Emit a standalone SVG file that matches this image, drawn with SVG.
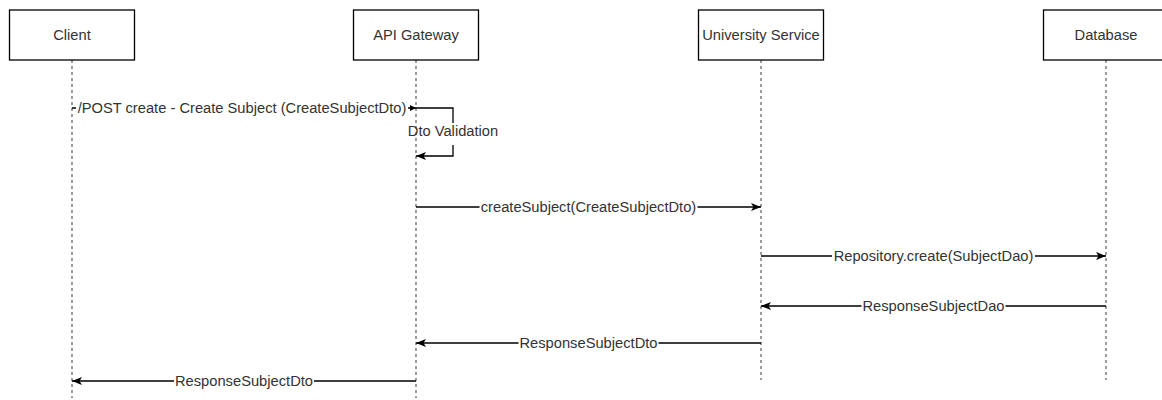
<svg xmlns="http://www.w3.org/2000/svg" width="1162" height="400" viewBox="0 0 1162 400">
  <defs>
    <style>
      .box { fill: #ffffff; stroke: #000000; stroke-width: 1.3; }
      .life { stroke: #6a6a6a; stroke-width: 1.3; stroke-dasharray: 3 3; fill: none; }
      .title { font-family: "Liberation Sans", Arial, Helvetica, sans-serif; font-size: 14.7px; fill: #333333; text-anchor: middle; }
      .msg { stroke: #000000; stroke-width: 1.3; fill: none; }
      .call { marker-end: url(#classic); }
      .label { font-family: "Liberation Sans", Arial, Helvetica, sans-serif; font-size: 14.7px; fill: #333333; text-anchor: middle; }
    </style>
    <!-- draw.io style "classic" arrowhead -->
    <marker id="classic" viewBox="0 0 10 8" refX="10" refY="4" markerWidth="10" markerHeight="8" markerUnits="userSpaceOnUse" orient="auto">
      <path d="M0,0 L10,4 L0,8 L2.5,4 Z" fill="#000000"/>
    </marker>
    <!-- small filled block arrowhead -->
    <marker id="block" viewBox="0 0 6 6" refX="6" refY="3" markerWidth="6" markerHeight="6" markerUnits="userSpaceOnUse" orient="auto">
      <path d="M0,0 L6,3 L0,6 Z" fill="#000000"/>
    </marker>
  </defs>

  <rect width="1162" height="400" fill="#ffffff"/>

  <!-- lifelines -->
  <g id="client">
    <line class="life" x1="72" y1="60" x2="72" y2="398"/>
    <rect class="box" x="9.5" y="10" width="125" height="50"/>
    <text class="title" x="72" y="40">Client</text>
  </g>
  <g id="api-gateway">
    <line class="life" x1="416" y1="60" x2="416" y2="398"/>
    <rect class="box" x="353.5" y="10" width="125" height="50"/>
    <text class="title" x="416" y="40">API Gateway</text>
  </g>
  <g id="university-service">
    <line class="life" x1="761" y1="60" x2="761" y2="380"/>
    <rect class="box" x="698.5" y="10" width="125" height="50"/>
    <text class="title" x="761" y="40">University Service</text>
  </g>
  <g id="database">
    <line class="life" x1="1106" y1="60" x2="1106" y2="380"/>
    <rect class="box" x="1043.5" y="10" width="125" height="50"/>
    <text class="title" x="1106" y="40">Database</text>
  </g>

  <!-- messages -->
  <g id="connectors">
    <g id="msg-post">
      <path class="msg" d="M72,108 H76 M408,108 H416" marker-end="url(#block)"/>
      <text class="label" x="242" y="113">/POST create - Create Subject (CreateSubjectDto)</text>
    </g>
    <g id="msg-validation">
      <path class="msg call" d="M416,108 H453 V123 M453,145 V156 H416"/>
      <text class="label" x="453" y="136">Dto Validation</text>
    </g>
    <g id="msg-create-subject">
      <path class="msg call" d="M416,207 H479.5 M697.5,207 H761"/>
      <text class="label" x="588.5" y="212">createSubject(CreateSubjectDto)</text>
    </g>
    <g id="msg-repository-create">
      <path class="msg call" d="M761,256 H832 M1035,256 H1106"/>
      <text class="label" x="933.5" y="261">Repository.create(SubjectDao)</text>
    </g>
    <g id="msg-response-dao">
      <path class="msg call" d="M1106,306 H1005.5 M861.5,306 H761"/>
      <text class="label" x="933.5" y="311">ResponseSubjectDao</text>
    </g>
    <g id="msg-response-dto-api">
      <path class="msg call" d="M761,343 H658.5 M518.5,343 H416"/>
      <text class="label" x="588.5" y="348">ResponseSubjectDto</text>
    </g>
    <g id="msg-response-dto-client">
      <path class="msg call" d="M416,381 H314 M174,381 H72"/>
      <text class="label" x="244" y="386">ResponseSubjectDto</text>
    </g>
  </g>
</svg>
